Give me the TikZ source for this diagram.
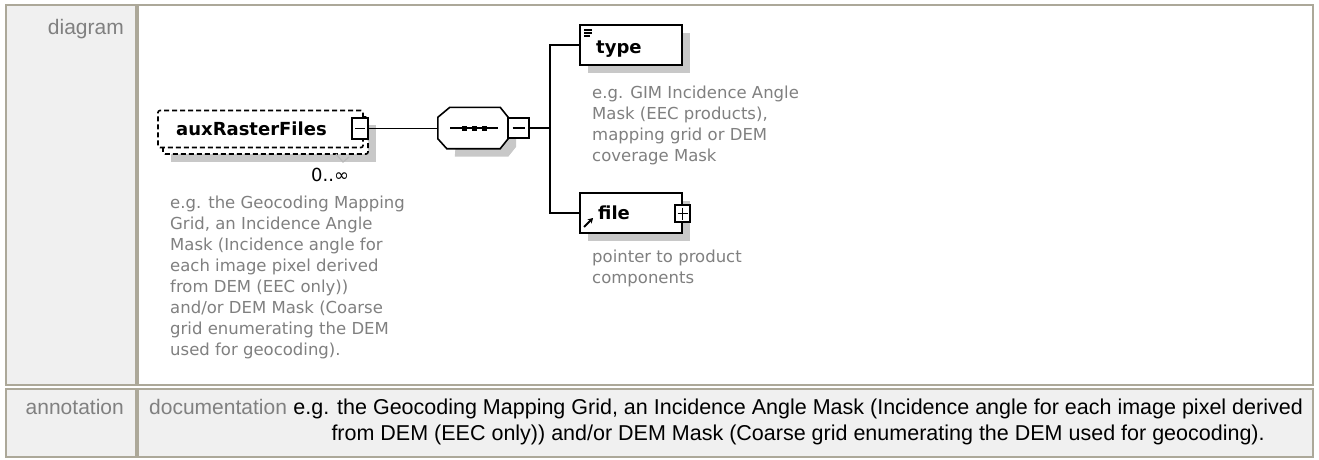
\documentclass[tikz,border=0pt]{standalone}
\usepackage{fontspec}
\setmainfont{Liberation Sans}
\newfontfamily\djv{DejaVu Sans}
\usetikzlibrary{calc,arrows.meta}
\definecolor{cellgray}{RGB}{240,240,240}
\definecolor{tblborder}{RGB}{172,168,153}
\definecolor{txtgray}{RGB}{128,128,128}
\definecolor{shadowgray}{RGB}{200,200,200}
\definecolor{chevgray}{RGB}{185,185,185}
\tikzset{
  tbl/.style={draw=tblborder, line width=2pt},
  lbl/.style={font=\fontsize{21}{25}\selectfont, text=txtgray, inner sep=0pt},
  anno/.style={font=\fontsize{21.5}{27}\selectfont, text=black, inner sep=0pt},
  desc/.style={font=\djv\fontsize{16.5}{21}\selectfont, text=txtgray, inner sep=0pt, align=left},
  elname/.style={font=\djv\bfseries\fontsize{18}{22}\selectfont, inner sep=0pt},
  card/.style={font=\djv\fontsize{18}{21}\selectfont, inner sep=0pt},
  elbox/.style={draw, line width=1.8pt, fill=white, minimum width=102pt, minimum height=40pt, inner sep=0pt},
  dashbox/.style={draw, line width=1.6pt, dash pattern=on 5pt off 3pt, fill=white, rounded corners=2pt, inner sep=0pt},
  pmbox/.style={draw, line width=1.5pt, fill=white, inner sep=0pt},
  conn/.style={line width=1.6pt},
  shade/.style={fill=shadowgray},
}
\begin{document}
\begin{tikzpicture}[x=1pt,y=-1pt]
\useasboundingbox (0,0) rectangle (1319,459);
\fill[white] (0,0) rectangle (1319,459);
% table cells
\draw[tbl, fill=cellgray] (6,5) rectangle (136,385);
\draw[tbl, fill=white] (138,5) rectangle (1313,385);
\draw[tbl, fill=cellgray] (6,389) rectangle (136,457);
\draw[tbl, fill=cellgray] (138,389) rectangle (1313,457);
% row labels
\node[lbl, anchor=base east] (diaglbl) at (124,34) {diagram};
\node[lbl, anchor=base east] (annlbl) at (124,414) {annotation};
\node[lbl, anchor=base west] (doclbl) at (149,414) {documentation};
\node[anno, anchor=base west] (docl1) at ($(doclbl.base east)+(6,0)$) {e.g. the Geocoding Mapping Grid, an Incidence Angle Mask (Incidence angle for each image pixel derived};
\node[anno, anchor=base] (docl2) at ($(docl1.base west)!0.5!(docl1.base east)+(0,26)$) {from DEM (EEC only)) and/or DEM Mask (Coarse grid enumerating the DEM used for geocoding).};

% ---- auxRasterFiles (repeated element) ----
\fill[shade] (171,125) rectangle (376,162);
\node[dashbox, minimum width=205pt, minimum height=37pt] (auxback) at (265.5,135.5) {};
\node[dashbox, minimum width=205pt, minimum height=37pt] (aux) at (260.5,129) {};
\node[elname, anchor=base west] (auxlbl) at (176,135) {auxRasterFiles};
\node[pmbox, minimum width=16pt, minimum height=21pt] (auxminus) at (360,128.5) {};
\draw[line width=1.4pt] ($(auxminus.center)+(-5,0)$) -- ($(auxminus.center)+(5,0)$);
\draw[chevgray, line width=1.2pt] (336,154) -- (343,162) -- (349,157);
\node[card, anchor=west] (auxcard) at (311,175) {0..∞};
\node[desc, anchor=north west] (auxdesc) at (170,195.5) {e.g. the Geocoding Mapping\\Grid, an Incidence Angle\\Mask (Incidence angle for\\each image pixel derived\\from DEM (EEC only))\\and/or DEM Mask (Coarse\\grid enumerating the DEM\\used for geocoding).};

% ---- sequence compositor ----
\node[inner sep=0pt, minimum width=70pt, minimum height=41pt] (seq) at (473,128) {};
\fill[shade] ($(seq.north west)+(20,8)$) -- ($(seq.north east)+(-1,8)$) -- ($(seq.north east)+(8,18)$) -- ($(seq.south east)+(8,-2)$) -- ($(seq.south east)+(0,8)$) -- ($(seq.south west)+(17,8)$) -- cycle;
\draw[line width=1.6pt, fill=white] ($(seq.north west)+(12,0)$) -- ($(seq.north east)+(-8,0)$) -- ($(seq.north east)+(0,10)$) -- ($(seq.south east)+(0,-10)$) -- ($(seq.south east)+(-8,0)$) -- ($(seq.south west)+(9,0)$) -- ($(seq.south west)+(0,-10)$) -- ($(seq.north west)+(0,10)$) -- cycle;
\draw[line width=1.5pt] (450,128) -- (498,128);
\fill (462,125.5) rectangle (467,130.5);
\fill (472,125.5) rectangle (477,130.5);
\fill (482,125.5) rectangle (487,130.5);
\node[pmbox, minimum width=21pt, minimum height=20pt] (seqminus) at (518.5,128) {};
\draw[line width=1.4pt] ($(seqminus.center)+(-6,0)$) -- ($(seqminus.center)+(6,0)$);
\draw[conn] (auxminus.east) -- (auxminus.east -| seq.west);

% ---- type ----
\fill[shade] (588,33) rectangle (690,73);
\node[elbox] (type) at (631,45) {};
\draw[line width=1.3pt] (584,30) -- (592,30) (584,33) -- (592,33) (584,36) -- (590,36);
\node[elname, anchor=base west] (typelbl) at (596,53) {type};
\node[desc, anchor=north west] (typedesc) at (592,85.5) {e.g. GIM Incidence Angle\\Mask (EEC products),\\mapping grid or DEM\\coverage Mask};

% ---- file ----
\fill[shade] (588,201) rectangle (690,241);
\node[elbox] (file) at (631,213) {};
\node[elname, anchor=base west] (filelbl) at (598,219) {file};
\draw[line width=1.8pt, -{Stealth[length=5pt,width=6pt]}] (584,227) -- (593,218);
\node[pmbox, minimum width=15pt, minimum height=17pt] (fileplus) at (682.5,213.5) {};
\draw[line width=1.4pt] ($(fileplus.center)+(-5,0)$) -- ($(fileplus.center)+(5,0)$) ($(fileplus.center)+(0,-6)$) -- ($(fileplus.center)+(0,6)$);
\node[desc, anchor=north west] (filedesc) at (592,249.5) {pointer to product\\components};

% ---- connectors ----
\coordinate (junc) at (550,128);
\draw[conn] (seqminus.east) -- (junc);
\draw[conn] (type.west) -| (junc) |- (file.west);
\end{tikzpicture}
\end{document}
